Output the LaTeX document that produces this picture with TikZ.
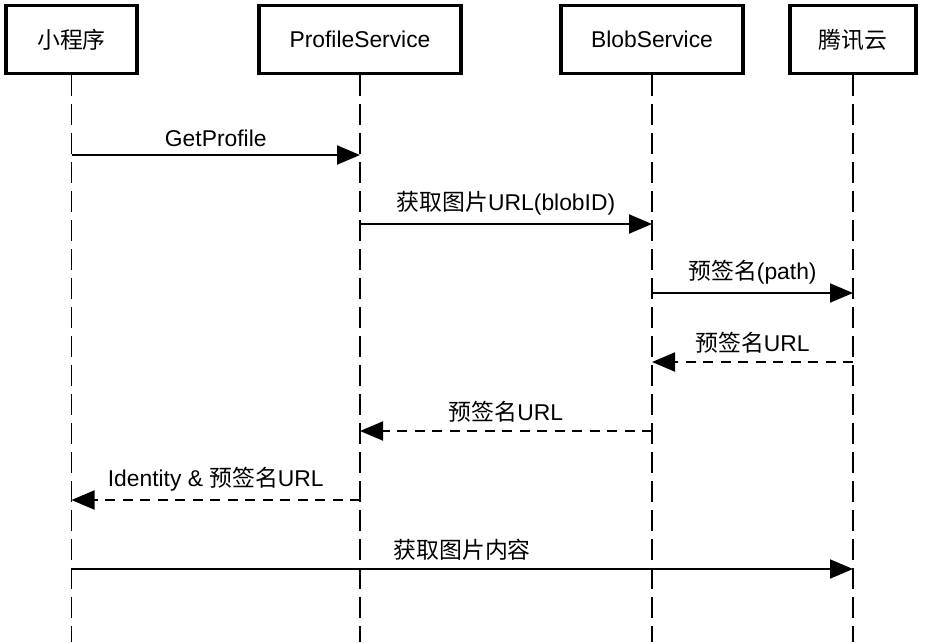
\documentclass[tikz,border=0pt]{standalone}
\usepackage{fontspec}
\setmainfont{Liberation Sans}
\newfontfamily\cjk{Noto Sans CJK SC}
\usepackage{tikz}
\usetikzlibrary{arrows.meta}
\tikzstyle{actor} = [rectangle, minimum height=1.36cm, line width=2.2pt, draw=black, text centered, font=\fontsize{13}{15}\selectfont]
\tikzstyle{lifeline} = [line width=1.1pt, dash pattern=on 0.42cm off 0.16cm]
\tikzstyle{call} = [line width=1.1pt, -{Triangle[length=0.46cm, width=0.38cm]}]
\tikzstyle{reply} = [call, dash pattern=on 0.2cm off 0.15cm]
\tikzstyle{msg} = [midway, above, yshift=1pt, font=\fontsize{13}{15}\selectfont]

\begin{document}
\begin{tikzpicture}
\useasboundingbox (0,0) rectangle (18.5,-12.84);
% Teilnehmer
\node (app) [actor, minimum width=2.62cm] at (1.43,-0.79) {{\cjk 小程序}};
\node (profile) [actor, minimum width=4.04cm] at (7.20,-0.79) {ProfileService};
\node (blob) [actor, minimum width=3.64cm] at (13.04,-0.79) {BlobService};
\node (cloud) [actor, minimum width=2.52cm] at (17.06,-0.79) {{\cjk 腾讯云}};

% Lebenslinien
\draw [lifeline] (app.south) -- (app |- 0,-12.84);
\draw [lifeline] (profile.south) -- (profile |- 0,-12.84);
\draw [lifeline] (blob.south) -- (blob |- 0,-12.84);
\draw [lifeline] (cloud.south) -- (cloud |- 0,-12.84);

% Nachrichten
\draw [call] (app |- 0,-3.10) -- (profile |- 0,-3.10) node[msg] {GetProfile};
\draw [call] (profile |- 0,-4.48) -- (blob |- 0,-4.48) node[msg] {{\cjk 获取图片}URL(blobID)};
\draw [call] (blob |- 0,-5.86) -- (cloud |- 0,-5.86) node[msg] {{\cjk 预签名}(path)};
\draw [reply] (cloud |- 0,-7.24) -- (blob |- 0,-7.24) node[msg] {{\cjk 预签名}URL};
\draw [reply] (blob |- 0,-8.62) -- (profile |- 0,-8.62) node[msg] {{\cjk 预签名}URL};
\draw [reply] (profile |- 0,-10.00) -- (app |- 0,-10.00) node[msg] {Identity \& {\cjk 预签名}URL};
\draw [call] (app |- 0,-11.38) -- (cloud |- 0,-11.38) node[msg] {{\cjk 获取图片内容}};

\end{tikzpicture}
\end{document}
